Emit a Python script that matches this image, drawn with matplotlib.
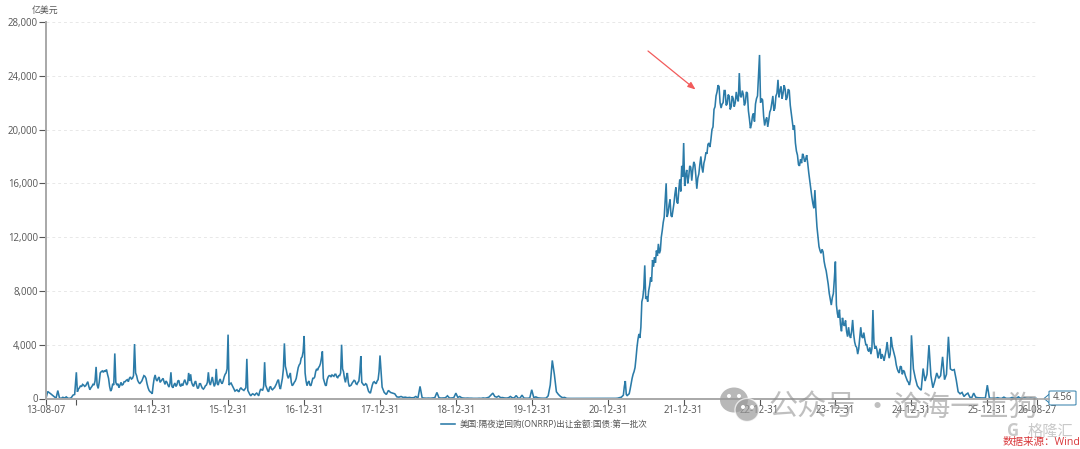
#!/usr/bin/env python

import matplotlib
matplotlib.use("Agg")
import matplotlib.pyplot as plt
import matplotlib.dates as mdates
import numpy as np
import pandas as pd
from matplotlib.patches import Ellipse, FancyBboxPatch, Polygon

plt.rcParams['font.family'] = ['Open Sans', 'Noto Sans CJK SC', 'DejaVu Sans']

# 亿美元, one list per year segment
seg_2013 = [0, 520, 430, 330, 220, 120, 30, 590, 40, 10, 90, 30, 120, 20, 10, 60, 250, 300, 1950]
seg_2014 = [500, 700, 800, 950, 880, 1050, 1000, 900, 950, 1100, 1250, 900, 650, 800, 900, 1050, 1000, 1300,
            2350, 1000, 750, 1200, 1900, 2000, 2050, 1950, 2080, 2000, 2150, 1800, 1500, 900, 550, 700,
            1100, 1000, 3350, 1200, 1000, 1100, 800, 1000, 1200, 1000, 1050, 1250, 1250, 1350, 1400, 1250,
            1500, 1600, 1450, 1500, 1700, 4050, 1900, 1700, 1350, 1200, 1100, 1200, 1300, 1500, 1700, 1650,
            1500, 1100, 800, 600, 500, 450, 350]
seg_2015 = [1000, 1500, 1750, 1400, 1300, 1500, 1600, 1200, 1300, 1400, 1500, 1250, 1050, 1300, 1200, 1000,
            850, 1100, 1950, 900, 800, 1000, 1150, 900, 1000, 1300, 1350, 1000, 900, 1100, 950, 1200, 1400,
            1200, 1000, 1150, 1900, 1300, 1800, 1200, 1000, 900, 1150, 1300, 1000, 750, 800, 1100, 1100, 900,
            750, 700, 800, 950, 1000, 1200, 1950, 1200, 1000, 1300, 1600, 1200, 900, 1100, 2200, 1100, 1000,
            1300, 1450, 1200, 1100, 1300, 1600, 1800, 1900, 2200, 4750]
seg_2016 = [1000, 1100, 1150, 1000, 850, 700, 550, 600, 650, 550, 500, 700, 800, 700, 650, 600, 700, 800, 2950,
            600, 450, 300, 200, 300, 350, 300, 250, 350, 400, 300, 200, 500, 700, 650, 600, 900, 2700, 1000,
            800, 600, 500, 800, 900, 700, 650, 750, 800, 950, 1100, 1300, 1400, 900, 700, 1100, 1500, 2200,
            4100, 2400, 2100, 1700, 1500, 1700, 1900, 1200, 950, 1050, 1200, 1300, 1500, 1900, 2300, 2500,
            2600, 3000, 3100, 3500, 4650]
seg_2017 = [1900, 1300, 950, 1200, 1300, 1000, 950, 1200, 1500, 1500, 1600, 2000, 2200, 2100, 2300, 2400, 2600,
            3000, 3500, 1500, 1250, 1000, 950, 1400, 1600, 1700, 1700, 1600, 1750, 1700, 1650, 1800, 1800,
            1600, 1550, 1700, 1700, 1900, 4000, 2200, 2000, 1500, 1200, 1600, 1900, 1200, 900, 950, 1000,
            1150, 1250, 1350, 1300, 1100, 1050, 1200, 1300, 2000, 3150, 1200, 1100, 1000, 1000, 1100, 1050,
            800, 550, 450, 400, 700, 1000, 1200, 1250, 1150, 1100, 1300, 1400, 2000, 3200]
seg_2018 = [850, 450, 300, 600, 450, 400, 350, 120, 100, 150, 80, 100, 60, 80, 50, 60, 150, 30, 900, 50,
            30, 20, 30, 20, 40, 60, 450, 50, 30, 40, 50, 200, 30, 40, 60, 400]
seg_2019 = [80, 150, 50, 30, 20, 30, 20, 20, 10, 10, 10, 20, 10, 40, 20, 50, 100, 250, 400, 150, 100, 180,
            60, 70, 40, 30, 50, 150, 50, 40, 220, 20, 30, 250, 30, 20, 20, 40, 650]
seg_2020 = [60, 120, 50, 30, 20, 20, 30, 200, 1000, 2830, 1800, 500, 300, 150, 60, 80, 10, 5, 5, 5, 5, 5,
            5, 5, 5, 5, 5, 5, 5, 5, 5, 5, 5, 5, 5, 5, 5]
seg_2021 = [5, 5, 5, 5, 5, 5, 8, 10, 15, 20, 40, 60, 80, 100, 180, 250, 900, 1300, 300, 200, 300, 350, 700, 1100,
            1500, 1800, 2000, 2300, 3000, 3800, 4400, 4800, 4500, 5300, 7200, 7500, 8200, 9900, 7400, 7600,
            7200, 8000, 8400, 9000, 8700, 10300, 9800, 10500, 10100, 11000, 10600, 11500, 10800, 11000, 12000,
            12500, 13100, 13500, 14800, 16000, 13500, 13800, 14400, 14800, 13600, 13500, 14000, 14500, 15200,
            15700, 14600, 14500, 15500, 16300, 15400, 17300, 16500, 19000]
seg_2022 = [15800, 16600, 17000, 16000, 16500, 17300, 17200, 16200, 17000, 17600, 17400, 16600, 15600, 16400,
            16700, 17400, 18000, 17200, 16800, 17500, 17800, 18300, 18200, 18900, 19000, 18700, 19300, 20000,
            20200, 21500, 21700, 22500, 22800, 23300, 23200, 22000, 21600, 21900, 22000, 22900, 22900, 21800,
            21900, 22600, 22500, 21500, 21700, 22500, 22300, 21700, 22000, 22800, 22300, 22100, 24200, 22500,
            22400, 22900, 22600, 21800, 22000, 22800, 22700, 21400, 20800, 20100, 20400, 21000, 21200, 20600,
            21900, 22300, 22500, 24000, 25550]
seg_2023 = [22000, 22300, 22200, 21000, 20300, 20700, 20900, 20200, 20700, 21300, 21500, 22000, 22500, 21400,
            21600, 22500, 22700, 23700, 22400, 22900, 23200, 22300, 22700, 23300, 23000, 22200, 22400, 23000,
            22900, 21800, 21200, 20600, 19980, 20300, 19000, 18400, 18100, 17400, 17300, 17800, 17500, 18200,
            18000, 17600, 17800, 18100, 17500, 16800, 16200, 15600, 15000, 14500, 14150, 15500, 14000, 12780,
            12000, 11300, 11000, 10800, 11100, 10900, 10200, 9800, 9500, 9000, 8500, 7820, 7400, 6950, 7500,
            7800, 8900, 10180]
seg_2024 = [6950, 6300, 6000, 6600, 5500, 5000, 6000, 5500, 5400, 5800, 5000, 4600, 5300, 4700, 4500, 5000, 5840,
            4800, 4200, 3900, 3800, 3300, 3700, 4500, 5300, 4600, 4500, 4900, 4400, 4000, 4000, 3600, 3500,
            3800, 3300, 3700, 6580, 4200, 3700, 3900, 3600, 3000, 3400, 3700, 2970, 3300, 3100, 2800, 3200,
            3600, 4200, 3500, 3000, 3300, 4580, 3900, 3600, 3300, 3000, 2500, 2200, 2000, 1900, 2400, 2350,
            1800, 2100, 2000, 1700, 1500, 1300, 1200, 1000, 1400, 4700]
seg_2025 = [2200, 1500, 950, 750, 620, 2230, 1300, 1800, 3970, 1700, 800, 1300, 1900, 1500, 1700, 3100,
            1400, 1800, 4590, 2200, 2100, 2150, 1400, 500, 350, 450, 150, 300, 400, 100, 60, 400, 100,
            60, 50, 40, 40, 30, 990]
seg_2026 = [30, 20, 25, 20, 60, 15, 10, 100, 15, 10, 20, 80, 15, 10, 120, 20, 10, 60, 15, 10, 30, 10, 8, 4.56]

segments = [seg_2013, seg_2014, seg_2015, seg_2016, seg_2017, seg_2018, seg_2019,
            seg_2020, seg_2021, seg_2022, seg_2023, seg_2024, seg_2025, seg_2026]
segment_ends = ['2013-12-31', '2014-12-31', '2015-12-31', '2016-12-31', '2017-12-31', '2018-12-31',
                '2019-12-31', '2020-12-31', '2021-12-31', '2022-12-31', '2023-12-31', '2024-12-31',
                '2025-12-31', '2026-08-27']
start_date = '2013-08-07'

tick_dates = ['2013-08-07', '2013-12-31', '2014-12-31', '2015-12-31', '2016-12-31', '2017-12-31',
              '2018-12-31', '2019-12-31', '2020-12-31', '2021-12-31', '2022-12-31', '2023-12-31',
              '2024-12-31', '2025-12-31', '2026-08-27']
tick_labels = ['13-08-07', '', '14-12-31', '15-12-31', '16-12-31', '17-12-31', '18-12-31', '19-12-31',
               '20-12-31', '21-12-31', '22-12-31', '23-12-31', '24-12-31', '25-12-31', '26-08-27']
y_ticks = [0, 4000, 8000, 12000, 16000, 20000, 24000, 28000]
series_name = '美国:隔夜逆回购(ONRRP)出让金额:国债:第一批次'
last_value = '4.56'

W, H = 1080, 449
LINE = '#2b7ba8'
GREY = '#555555'
MARK = '#a8a8a8'


def px(x, y):
    # pixel position in the picture -> figure fraction
    return x / W, 1 - y / H


# each segment runs evenly up to its year end
x_list = []
prev = pd.Timestamp(start_date)
for seg, end in zip(segments, segment_ends):
    end = pd.Timestamp(end)
    if prev == pd.Timestamp(start_date):
        d = pd.date_range(prev, end, periods=len(seg))
    else:
        d = pd.date_range(prev, end, periods=len(seg) + 1)[1:]
    x_list.extend(d)
    prev = end
yy = np.concatenate(segments)

fig = plt.figure(figsize=(W / 100, H / 100), dpi=100)
ax = fig.add_axes([46 / W, 1 - 398.5 / H, (1037 - 46) / W, (398.5 - 22) / H])

line, = ax.plot(x_list, yy, color=LINE, lw=1.15, label=series_name, solid_joinstyle='miter')

ax.set_xlim(pd.Timestamp(start_date), pd.Timestamp('2026-08-27'))
ax.set_ylim(0, 28000)
ax.set_yticks(y_ticks)
ax.set_yticklabels(['{:,}'.format(v) for v in y_ticks])
ax.set_xticks([mdates.date2num(pd.Timestamp(d)) for d in tick_dates])
ax.set_xticklabels(tick_labels)
ax.tick_params(axis='y', labelsize=6.9, labelcolor=GREY, color=GREY, length=5, width=0.8, pad=1)
ax.tick_params(axis='x', labelsize=6.9, labelcolor=GREY, color=GREY, length=4, width=0.8, pad=0.5)

ax.grid(axis='y', linestyle=(0, (3, 3)), color='#e8e8e8', lw=0.7)
ax.set_axisbelow(True)
for s in ['top', 'right']:
    ax.spines[s].set_visible(False)
ax.spines['left'].set_color(MARK)
ax.spines['left'].set_linewidth(1.4)
ax.spines['bottom'].set_color(MARK)
ax.spines['bottom'].set_linewidth(1.4)

# axis line runs on to the value box
fig.add_artist(plt.Line2D([1037 / W, 1049 / W], [1 - 398.5 / H] * 2, color=MARK, lw=1.2))

tx, ty = px(45, 10)
fig.text(tx, ty, '亿美元', fontsize=6.4, color=GREY, ha='center', va='center')

ax.legend(loc='center', bbox_to_anchor=px(544, 424.5), bbox_transform=fig.transFigure, frameon=False,
          fontsize=6.2, labelcolor=GREY, handlelength=1.7, handletextpad=0.45, borderpad=0)

# red arrow
fig.add_artist(plt.Annotation('', xy=px(695.5, 89.5), xytext=px(648, 51), xycoords='figure fraction',
                              textcoords='figure fraction',
                              arrowprops=dict(arrowstyle='-|>,head_length=0.45,head_width=0.18',
                                              color='#f25b5b', lw=0.9, shrinkA=0, shrinkB=0)))

# end value box
fig.add_artist(Polygon([px(1044, 398.5), px(1049.5, 394), px(1049.5, 403)], closed=True,
                       facecolor='white', edgecolor=LINE, lw=0.7, transform=fig.transFigure))
box_x, box_y = px(1049, 405)
fig.add_artist(FancyBboxPatch((box_x, box_y), 27 / W, 14 / H, boxstyle='round,pad=0,rounding_size=0.002',
                              facecolor='white', edgecolor=LINE, lw=0.7, transform=fig.transFigure,
                              mutation_aspect=H / W * 1.0))
tx, ty = px(1062.5, 398)
fig.text(tx, ty, last_value, fontsize=7, color=GREY, ha='center', va='center')

# watermark, see-through so the tick labels still show
wm = '#9a9a9a'
for (cx, cy, w, h, c, ec) in [(734, 400, 28, 25, wm, 'none'), (747, 410, 24, 23, wm, 'white')]:
    fx, fy = px(cx, cy)
    fig.add_artist(Ellipse((fx, fy), w / W, h / H, facecolor=c, edgecolor=ec, lw=1.0,
                           transform=fig.transFigure, alpha=0.7))
for (cx, cy) in [(729, 396), (739, 396), (743, 407), (752, 407)]:
    fx, fy = px(cx, cy)
    fig.add_artist(Ellipse((fx, fy), 4 / W, 4 / H, facecolor='white', edgecolor='none',
                           transform=fig.transFigure))
for (t, x) in [('公众号', 769), ('·', 863), ('沧海一土狗', 893)]:
    fx, fy = px(x, 408)
    fig.text(fx, fy, t, fontsize=21, color='#8c8c8c', alpha=0.55, ha='left', va='center',
             family=['Noto Sans CJK SC', 'DejaVu Sans'])

fx, fy = px(1007, 431)
fig.text(fx, fy, 'G', fontsize=12, color='#c9c9c9', ha='left', va='center', fontweight='bold')
fx, fy = px(1028, 431)
fig.text(fx, fy, '格隆汇', fontsize=11, color='#c9c9c9', ha='left', va='center',
         family=['Noto Sans CJK SC', 'DejaVu Sans'])
fx, fy = px(1003, 442)
fig.text(fx, fy, '数据来源：Wind', fontsize=7.6, color='#d9373a', ha='left', va='center')

fig.savefig('out.png', dpi=100)
